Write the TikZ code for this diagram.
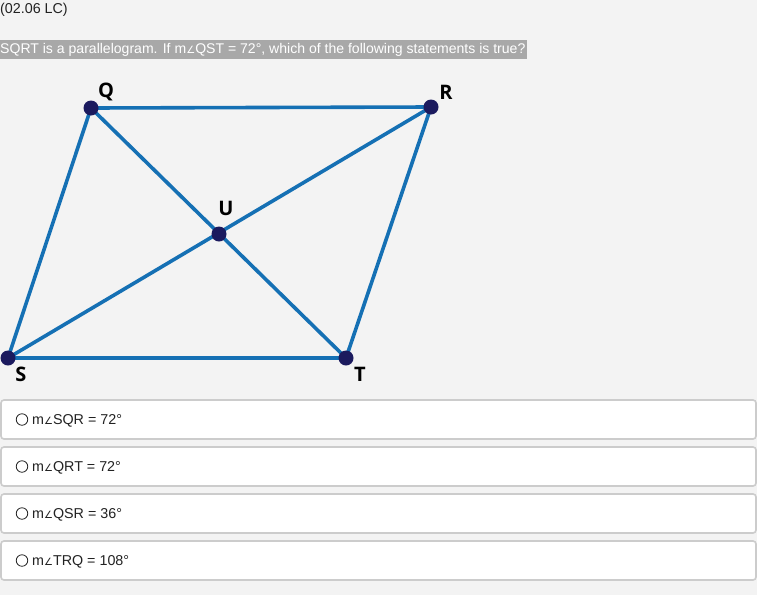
\documentclass[tikz,border=0pt]{standalone}
\usepackage{fontspec}
\setmainfont{Liberation Sans}
\newfontfamily\labfont{Open Sans}
\newfontfamily\dvfont{DejaVu Sans}
\definecolor{bg}{HTML}{F3F3F3}
\definecolor{edge}{HTML}{1570B4}
\definecolor{dot}{HTML}{1B1A5E}
\definecolor{hl}{HTML}{A8A8A8}
\definecolor{boxline}{HTML}{CCCCCC}
\definecolor{txt}{HTML}{222222}
\newcommand{\ang}{{\dvfont\fontsize{10}{12}\selectfont ∠}}
\tikzset{
  seg/.style={edge, line width=3.6pt},
  vtx/.style={circle, fill=dot, inner sep=0pt, minimum size=15pt},
  lab/.style={font=\labfont\bfseries\fontsize{20}{24}\selectfont, text=black, inner sep=0pt},
  optbox/.style={draw=boxline, line width=1.6pt, fill=white, rounded corners=3pt},
  opt/.style={font=\fontsize{14.3}{16}\selectfont, text=txt, anchor=west, inner sep=0pt},
  radio/.style={circle, draw=txt, line width=0.8pt, minimum size=11.5pt, inner sep=0pt}
}
\begin{document}
\begin{tikzpicture}[x=1pt,y=-1pt]
\fill[bg] (0,0) rectangle (757,595);
\useasboundingbox (0,0) rectangle (757,595);
\node[anchor=west, inner sep=0pt, font=\fontsize{14.3}{16}\selectfont, text=txt] (hdr) at (0,10) {(02.06 LC)};
\fill[hl] (0,40) rectangle (527,59);
\node[anchor=west, inner sep=0pt, font=\fontsize{14.05}{16}\selectfont, text=white] (q) at (0,49.5) {SQRT is a parallelogram. If m\ang QST = 72°, which of the following statements is true?};
% geometry
\coordinate (Qp) at (91,108);
\coordinate (Rp) at (431,107);
\coordinate (Up) at (219,234);
\coordinate (Sp) at (8,358);
\coordinate (Tp) at (346,358);
\draw[seg] (Qp) -- (Rp) -- (Tp) -- (Sp) -- cycle;
\draw[seg] (Qp) -- (Tp);
\draw[seg] (Sp) -- (Rp);
\node[vtx] (Q) at (Qp) {};
\node[vtx] (R) at (Rp) {};
\node[vtx] (U) at (Up) {};
\node[vtx] (S) at (Sp) {};
\node[vtx] (T) at (Tp) {};
\node[lab] (lQ) at (106,92) {Q};
\node[lab] (lR) at (446,92) {R};
\node[lab] (lU) at (226,208) {U};
\node[lab] (lS) at (21,374) {S};
\node[lab] (lT) at (360,374) {T};
% options
\foreach \y/\t [count=\i] in {400/{m\ang SQR = 72°}, 447/{m\ang QRT = 72°}, 494/{m\ang QSR = 36°}, 541/{m\ang TRQ = 108°}}{
  \draw[optbox] (1,\y) rectangle (756,\y+39);
  \node[radio] (r\i) at (22,\y+19.5) {};
  \node[opt] (o\i) at (32,\y+21) {\t};
}
\end{tikzpicture}
\end{document}
